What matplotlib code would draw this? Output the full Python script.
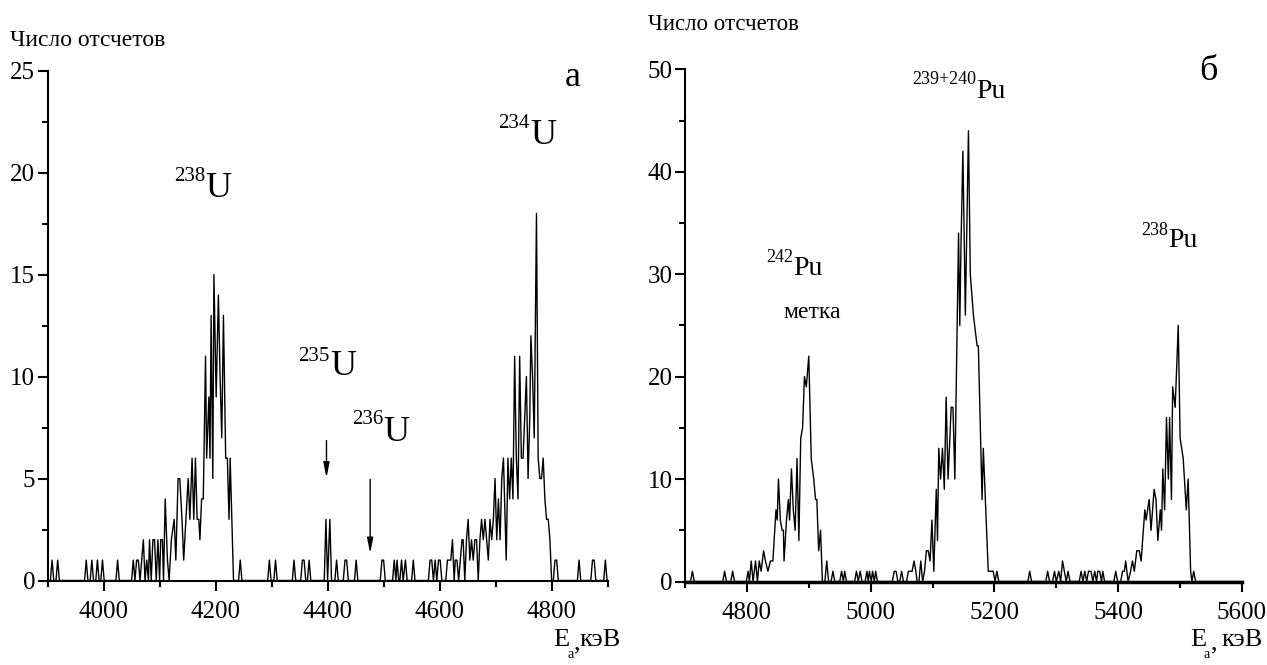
import matplotlib
matplotlib.use("Agg")
import matplotlib.pyplot as plt
from matplotlib.ticker import MultipleLocator

plt.rcParams['font.family'] = ['Liberation Serif', 'DejaVu Serif']

# ---------------- data: panel a (uranium) ----------------
energy_a = [3900, 3905, 3908, 3911, 3915, 3918, 3921, 3966, 3969, 3972, 3976, 3979, 3982,
            3986, 3989, 3992, 3995, 3998, 4001, 4022, 4025, 4028,
            4050, 4053, 4056, 4059, 4062, 4065, 4068, 4071, 4074, 4077, 4080, 4082, 4085,
            4088, 4091, 4094, 4097, 4100, 4102, 4105, 4107, 4110, 4114, 4117, 4121, 4126,
            4129, 4133, 4136, 4140, 4143, 4147, 4151, 4154, 4158, 4161, 4164, 4167, 4170,
            4172, 4175, 4178, 4182, 4184, 4188, 4190, 4192, 4195, 4197, 4201, 4205, 4208,
            4211, 4214, 4218, 4221, 4224, 4226, 4232, 4241, 4244, 4247,
            4293, 4296, 4299, 4304, 4307, 4310, 4337, 4340, 4343, 4352, 4355, 4358, 4361,
            4364, 4367, 4370, 4394, 4397, 4400, 4404, 4407, 4413, 4416, 4419, 4428, 4431,
            4434, 4437, 4448, 4451, 4454, 4494, 4497, 4500, 4503, 4516, 4519, 4522, 4524,
            4527, 4529, 4532, 4535, 4539, 4542, 4550, 4553, 4556,
            4580, 4583, 4586, 4589, 4592, 4595, 4598, 4601, 4604, 4611, 4614, 4617, 4620,
            4623, 4626, 4628, 4631, 4634, 4637, 4640, 4642, 4645, 4648, 4651, 4654, 4657,
            4660, 4663, 4666, 4669, 4672, 4675, 4678, 4681, 4684, 4687, 4690, 4693, 4696,
            4699, 4702, 4705, 4708, 4711, 4714, 4717, 4719, 4722, 4725, 4728, 4731, 4734,
            4737, 4740, 4743, 4746, 4749, 4752, 4755, 4758, 4761, 4763, 4766, 4769, 4773,
            4776, 4779, 4782, 4785, 4788, 4791, 4794, 4797, 4800, 4803, 4806, 4809, 4812,
            4846, 4849, 4852, 4870, 4873, 4876, 4879, 4882, 4893, 4896, 4899, 4900]
counts_a = [0, 0, 1, 0, 0, 1, 0, 0, 1, 0, 0, 1, 0,
            0, 1, 0, 0, 1, 0, 0, 1, 0,
            0, 1, 0, 1, 1, 0, 1, 2, 0, 1, 0, 2, 0,
            2, 2, 0, 2, 0, 2, 2, 0, 4, 1, 0, 2, 3,
            1, 5, 5, 3, 1, 3, 5, 3, 6, 3, 6, 3, 3,
            2, 4, 4, 11, 6, 9, 6, 13, 5, 15, 9, 14, 10,
            7, 13, 6, 6, 3, 6, 0, 0, 1, 0,
            0, 1, 0, 0, 1, 0, 0, 1, 0, 0, 1, 1, 0,
            0, 1, 0, 0, 3, 0, 3, 0, 0, 1, 0, 0, 1,
            1, 0, 0, 1, 0, 0, 1, 1, 0, 0, 1, 0, 1,
            0, 0, 1, 0, 1, 0, 0, 1, 0,
            0, 1, 1, 0, 1, 0, 1, 1, 0, 0, 1, 1, 1,
            2, 0, 1, 1, 0, 1, 2, 2, 0, 2, 3, 1, 2,
            1, 2, 2, 0, 2, 3, 2, 3, 2, 1, 3, 2, 3,
            5, 2, 4, 2, 5, 6, 3, 1, 6, 4, 6, 4, 11,
            6, 4, 11, 6, 6, 8, 10, 5, 8, 12, 10, 7, 18,
            6, 5, 5, 6, 4, 3, 3, 2, 0, 0, 1, 1, 0,
            0, 1, 0, 0, 1, 1, 0, 0, 0, 1, 0, 0]

# ---------------- data: panel b (plutonium) ----------------
energy_b = [4700, 4709, 4712, 4715, 4761, 4764, 4767, 4774, 4777, 4780,
            4799, 4802, 4804, 4807, 4810, 4814, 4817, 4820, 4823, 4827, 4830, 4834, 4838,
            4842, 4847, 4849, 4851, 4854, 4857, 4859, 4860, 4864, 4867, 4869, 4872, 4875,
            4878, 4881, 4884, 4887, 4890, 4893, 4896, 4900, 4904, 4908, 4911, 4913, 4916,
            4919, 4922, 4926, 4929, 4932, 4936, 4939, 4942, 4950, 4953, 4956, 4958, 4961,
            4974, 4977, 4980, 4983, 4986, 4991, 4994, 4996, 4998, 5001, 5003, 5006, 5008,
            5011, 5035, 5038, 5041, 5044, 5047, 5050, 5053, 5058, 5061, 5064, 5067, 5070,
            5073, 5075, 5078, 5081, 5084, 5087, 5090, 5093, 5096, 5099, 5102, 5106, 5108,
            5110, 5113, 5116, 5119, 5122, 5125, 5128, 5130, 5133, 5136, 5142, 5144, 5146,
            5149, 5153, 5158, 5161, 5166, 5172, 5174, 5180, 5182, 5190, 5193, 5196, 5198,
            5201, 5204, 5207, 5254, 5257, 5260, 5283, 5286, 5289, 5294, 5297, 5300, 5304,
            5307, 5310, 5313, 5316, 5319, 5322, 5337, 5340, 5343, 5346, 5349, 5352, 5356,
            5359, 5362, 5365, 5367, 5370, 5373, 5375, 5378, 5393, 5396, 5399, 5404, 5407,
            5410, 5412, 5416, 5420, 5423, 5426, 5430, 5434, 5437, 5443, 5445, 5450, 5453,
            5458, 5461, 5464, 5468, 5470, 5472, 5475, 5478, 5481, 5483, 5486, 5488, 5492,
            5497, 5500, 5505, 5510, 5513, 5517, 5519, 5522, 5525, 5600]
counts_b = [0, 0, 1, 0, 0, 1, 0, 0, 1, 0,
            0, 1, 0, 2, 0, 2, 0, 2, 1, 3, 2, 1, 2,
            2, 7, 6, 10, 6, 5, 5, 2, 6, 8, 6, 11, 7,
            5, 12, 4, 14, 15, 20, 19, 22, 12, 10, 8, 8, 3,
            5, 0, 0, 2, 0, 0, 1, 0, 0, 1, 0, 1, 0,
            0, 1, 0, 1, 0, 0, 1, 0, 1, 0, 1, 0, 1,
            0, 0, 1, 1, 0, 0, 1, 0, 0, 1, 1, 1, 2,
            1, 0, 0, 2, 0, 1, 3, 3, 2, 6, 1, 9, 4,
            13, 10, 13, 9, 18, 10, 14, 17, 17, 10, 34, 25, 33,
            42, 26, 44, 30, 26, 23, 23, 8, 13, 1, 1, 1, 1,
            0, 1, 0, 0, 1, 0, 0, 1, 0, 0, 1, 0, 1,
            0, 2, 1, 0, 1, 0, 0, 1, 0, 1, 0, 1, 1,
            0, 1, 0, 1, 1, 0, 1, 0, 0, 1, 0, 0, 1,
            1, 2, 0, 1, 2, 1, 3, 3, 2, 7, 6, 8, 5,
            9, 8, 4, 7, 5, 11, 7, 16, 10, 16, 8, 19, 17,
            25, 14, 12, 7, 10, 1, 0, 1, 0, 0]

xlim_a = (3900, 4900)
ylim_a = (0, 25)
xlim_b = (4700, 5600)
ylim_b = (0, 50)

W, H = 1267, 665
fig = plt.figure(figsize=(W / 100, H / 100), dpi=100)

def px(x, y):
    return x / W, 1 - y / H

ax_a = fig.add_axes([47.6 / W, 1 - 580.5 / H, (607.6 - 47.6) / W, (580.5 - 70.7) / H])
ax_b = fig.add_axes([685 / W, 1 - 581.5 / H, (1242 - 685) / W, (581.5 - 69.3) / H])

def style(ax, xlim, ylim, xmaj, xmin, ymaj, ymin, bottom_lw):
    ax.set_xlim(*xlim)
    ax.set_ylim(*ylim)
    for s in ('top', 'right'):
        ax.spines[s].set_visible(False)
    ax.spines['left'].set_linewidth(1.5)
    ax.spines['bottom'].set_linewidth(bottom_lw)
    ax.xaxis.set_major_locator(MultipleLocator(xmaj))
    ax.xaxis.set_minor_locator(MultipleLocator(xmin))
    ax.yaxis.set_major_locator(MultipleLocator(ymaj))
    ax.yaxis.set_minor_locator(MultipleLocator(ymin))
    ax.tick_params(which='major', direction='out', length=7, width=1.5, labelsize=18, pad=2)
    ax.tick_params(which='minor', direction='out', length=4, width=1.5)
    ax.tick_params(axis='x', pad=8)
    ax.set_facecolor('none')

ax_a.plot(energy_a, counts_a, color='black', lw=1.0, clip_on=False)
ax_b.plot(energy_b, counts_b, color='black', lw=1.0, clip_on=False)
style(ax_a, xlim_a, ylim_a, 200, 100, 5, 2.5, 1.5)
style(ax_b, xlim_b, ylim_b, 200, 100, 10, 5, 2.5)

# y titles
fig.text(*px(10, 40), 'Число отсчетов', fontsize=17, ha='left', va='center')
fig.text(*px(648, 24), 'Число отсчетов', fontsize=16.5, ha='left', va='center')
# panel letters
fig.text(*px(573, 77), 'а', fontsize=26, ha='center', va='center')
fig.text(*px(1208, 72), 'б', fontsize=26, ha='center', va='center')

# x labels: E, subscript a, comma, unit
for (xe, unit_gap) in [(553, 0), (1190, 5)]:
    fig.text(*px(xe, 640), 'E', fontsize=19, ha='left', va='center')
    fig.text(*px(xe + 14, 654), 'a', fontsize=10, ha='left', va='center')
    fig.text(*px(xe + 21, 643), ',', fontsize=19, ha='left', va='center')
    fig.text(*px(xe + 26 + unit_gap, 640), 'кэВ', fontsize=19, ha='left', va='center')

# isotope labels
def iso(ax, x, y, ysup, sup, main, fs_main, fs_sup):
    ax.text(x, y, main, fontsize=fs_main, ha='left', va='center')
    ax.text(x, ysup, sup, fontsize=fs_sup, ha='right', va='center')

iso(ax_a, 4181, 19.2, 19.8, '238', 'U', 26, 15)
iso(ax_a, 4761, 21.8, 22.4, '234', 'U', 26, 15)
iso(ax_a, 4404, 10.5, 11.0, '235', 'U', 26, 15)
iso(ax_a, 4499, 7.25, 7.9, '236', 'U', 26, 15)

arrow = dict(arrowstyle='-|>,head_width=0.18,head_length=0.9', color='black', lw=1.0)
ax_a.annotate('', xy=(4398, 4.9), xytext=(4398, 7.0), arrowprops=arrow)
ax_a.annotate('', xy=(4476, 1.2), xytext=(4476, 5.1), arrowprops=arrow)

iso(ax_b, 5170, 47.8, 49.0, '239+240', 'Pu', 20, 13)
iso(ax_b, 4875, 30.6, 31.6, '242', 'Pu', 20, 13)
ax_b.text(4906, 26.3, 'метка', fontsize=17, ha='center', va='center')
iso(ax_b, 5481, 33.3, 34.3, '238', 'Pu', 20, 13)

fig.savefig('out.png', dpi=100)
